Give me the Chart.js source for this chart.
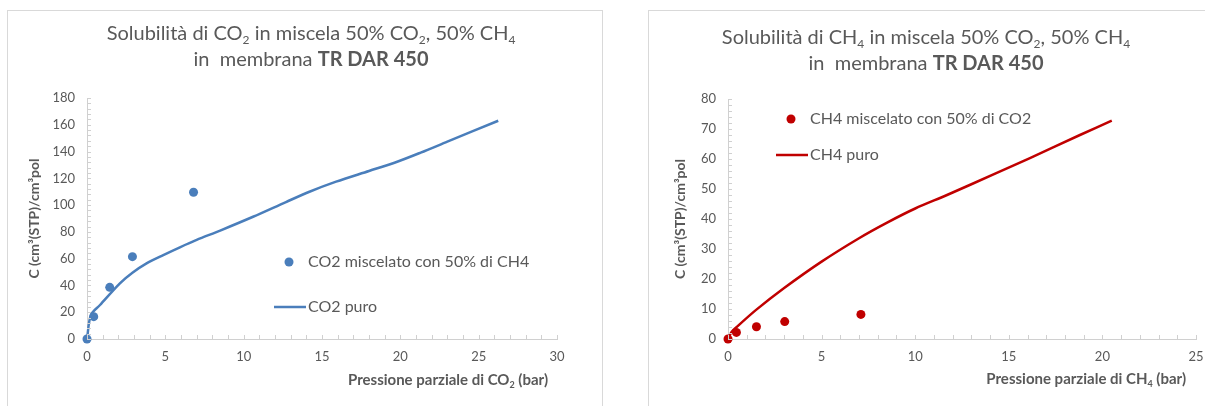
<!DOCTYPE html>
<html>
<head>
<meta charset="utf-8">
<script src="https://cdn.jsdelivr.net/npm/chart.js@4.4.1/dist/chart.umd.min.js"></script>
<style>
  html, body { margin: 0; padding: 0; background: #ffffff; }
  body { width: 1205px; height: 406px; position: relative; overflow: hidden; }
  .panel { position: absolute; border: 1px solid #d9d9d9; box-sizing: border-box; }
  canvas { position: absolute; top: 0; }
</style>
</head>
<body>
<div class="panel" style="left:7px; top:10px; width:596px; height:420px;"></div>
<div class="panel" style="left:648px; top:10px; width:600px; height:420px;"></div>
<canvas id="co2Chart" width="620" height="406" style="left:0px;"></canvas>
<canvas id="ch4Chart" width="610" height="406" style="left:620px;"></canvas>
<script>
// CO2 solubility: mixed-gas points and pure-gas curve (pressure in bar, C in cm3(STP)/cm3 pol)
const co2MixPressure = [0, 0.43, 1.45, 2.9, 6.8];
const co2MixConc = [0, 16.7, 38.6, 61.5, 109.6];
const co2PurePressure = [0, 0.25, 0.83, 2.1, 2.9, 3.8, 4.87, 5.93, 7, 8.5, 10.6, 12.7, 14.2, 15.9, 18, 19.8, 21.3, 23, 26.25];
const co2PureConc = [0, 18, 25.4, 41.6, 49.5, 56.5, 62.7, 68.5, 74, 81, 91.3, 102.3, 110, 117.5, 125.5, 132.4, 139.2, 147.4, 163];

// CH4 solubility: mixed-gas points and pure-gas curve
const ch4MixPressure = [0, 0.45, 1.52, 3.03, 7.1];
const ch4MixConc = [0, 2.2, 4.1, 5.8, 8.2];
const ch4PurePressure = [0, 0.2, 0.5, 1.5, 3, 5, 7, 8.5, 10, 11.7, 14.3, 16.1, 18.8, 20.5];
const ch4PureConc = [0, 2.4, 4.2, 9.7, 17, 25.8, 33.6, 38.8, 43.5, 48, 55.2, 60.2, 68, 72.8];

// Legend labels
const co2Labels = ['CO2 miscelato con 50% di CH4', 'CO2 puro'];
const ch4Labels = ['CH4 miscelato con 50% di CO2', 'CH4 puro'];

// Axis ranges: [min, max, major step, minor step]
const co2XAxis = [0, 30, 5, 1];
const co2YAxis = [0, 180, 20, 4];
const ch4XAxis = [0, 25, 5, 1];
const ch4YAxis = [0, 80, 10, 2];

const FONT = 'Lato, "Open Sans", sans-serif';
const TEXT = '#595959';
const AXIS = '#d0d0d0';

function pairs(xs, ys) { return xs.map((x, i) => ({ x: x, y: ys[i] })); }

// Draws a line of text made of runs (normal / bold / subscript)
function drawRuns(ctx, runs, x, y, size, align) {
  const fontFor = r => (r.bold ? 'bold ' : '') + (r.sub ? Math.round(size * 0.62) : size) + 'px ' + FONT;
  let total = 0;
  runs.forEach(r => { ctx.font = fontFor(r); r.w = ctx.measureText(r.t).width; total += r.w; });
  let cx = align === 'right' ? x - total : align === 'left' ? x : x - total / 2;
  ctx.textBaseline = 'alphabetic';
  ctx.textAlign = 'left';
  runs.forEach(r => {
    ctx.font = fontFor(r);
    ctx.fillText(r.t, cx, y + (r.sub ? size * 0.22 : 0));
    cx += r.w;
  });
}

// Inside-pointing minor tick marks along both axes
const minorTicks = {
  id: 'minorTicks',
  afterDatasetsDraw(chart, args, opts) {
    const ctx = chart.ctx, xs = chart.scales.x, ys = chart.scales.y;
    const a = chart.chartArea;
    ctx.save();
    ctx.strokeStyle = AXIS;
    ctx.lineWidth = 1;
    ctx.beginPath();
    for (let v = xs.min; v <= xs.max + 1e-9; v += opts.xStep) {
      const px = Math.round(xs.getPixelForValue(v)) + 0.5;
      ctx.moveTo(px, a.bottom); ctx.lineTo(px, a.bottom - 4);
    }
    for (let v = ys.min; v <= ys.max + 1e-9; v += opts.yStep) {
      const py = Math.round(ys.getPixelForValue(v)) + 0.5;
      ctx.moveTo(a.left, py); ctx.lineTo(a.left + 4, py);
    }
    ctx.stroke();
    ctx.restore();
  }
};

// Title, axis titles and legend drawn with sub/superscripts
const annotations = {
  id: 'annotations',
  afterDraw(chart, args, o) {
    const ctx = chart.ctx, a = chart.chartArea;
    ctx.save();
    ctx.fillStyle = TEXT;
    drawRuns(ctx, o.title1, o.titleX, o.titleY, 20, 'center');
    drawRuns(ctx, o.title2, o.titleX, o.titleY + 26, 20, 'center');
    drawRuns(ctx, o.xTitle, a.right - o.xTitleInset, o.xTitleY, 15, 'right');
    ctx.save();
    ctx.translate(o.yTitleX, (a.top + a.bottom) / 2);
    ctx.rotate(-Math.PI / 2);
    ctx.font = 'bold 14px ' + FONT;
    ctx.textAlign = 'center';
    ctx.textBaseline = 'middle';
    ctx.fillText('C (cm³(STP)/cm³pol', 0, 0);
    ctx.restore();

    // legend
    const ds = chart.data.datasets;
    const lg = o.legend;
    ctx.font = '16px ' + FONT;
    ctx.textBaseline = 'middle';
    ctx.textAlign = 'left';
    ctx.fillStyle = ds[0].backgroundColor;
    ctx.beginPath();
    ctx.arc(a.left + lg.dotX, a.top + lg.dotY, 4.5, 0, Math.PI * 2);
    ctx.fill();
    ctx.fillStyle = TEXT;
    ctx.fillText(ds[0].label, a.left + lg.dotX + 19, a.top + lg.dotY);
    ctx.strokeStyle = ds[1].borderColor;
    ctx.lineWidth = 2.5;
    ctx.beginPath();
    ctx.moveTo(a.left + lg.lineX, a.top + lg.lineY);
    ctx.lineTo(a.left + lg.lineX + 32, a.top + lg.lineY);
    ctx.stroke();
    ctx.fillText(ds[1].label, a.left + lg.lineX + 34, a.top + lg.lineY);
    ctx.restore();
  }
};

function makeChart(id, cfg) {
  const axisCommon = (range, side) => ({
    type: 'linear',
    position: side,
    min: range[0], max: range[1],
    ticks: { stepSize: range[2], color: TEXT, font: { family: FONT, size: 13 }, padding: side === 'left' ? 12 : 10 },
    grid: { drawOnChartArea: false, drawTicks: false },
    border: { color: AXIS, width: 1 },
    afterFit(s) { if (side === 'left') s.width = cfg.yWidth; else s.height = 30; }
  });
  return new Chart(document.getElementById(id), {
    type: 'scatter',
    data: {
      datasets: [
        {
          label: cfg.labels[0],
          data: pairs(cfg.mixX, cfg.mixY),
          showLine: false,
          backgroundColor: cfg.color,
          borderColor: cfg.color,
          pointRadius: 4.5,
          pointBorderWidth: 0,
          clip: false
        },
        {
          label: cfg.labels[1],
          data: pairs(cfg.pureX, cfg.pureY),
          showLine: true,
          borderColor: cfg.color,
          backgroundColor: cfg.color,
          borderWidth: 2.5,
          pointRadius: 0,
          tension: 0.3,
          clip: false
        }
      ]
    },
    options: {
      responsive: false,
      animation: false,
      devicePixelRatio: 1,
      layout: { padding: cfg.padding },
      scales: { x: axisCommon(cfg.xAxis, 'bottom'), y: axisCommon(cfg.yAxis, 'left') },
      plugins: {
        legend: { display: false },
        tooltip: { enabled: false },
        minorTicks: { xStep: cfg.xAxis[3], yStep: cfg.yAxis[3] },
        annotations: cfg.text
      }
    },
    plugins: [minorTicks, annotations]
  });
}

makeChart('co2Chart', {
  mixX: co2MixPressure, mixY: co2MixConc,
  pureX: co2PurePressure, pureY: co2PureConc,
  labels: co2Labels, color: '#4a7ebb',
  xAxis: co2XAxis, yAxis: co2YAxis,
  yWidth: 40,
  padding: { left: 47, right: 63, top: 98, bottom: 37 },
  text: {
    title1: [{ t: 'Solubilità di CO' }, { t: '2', sub: true }, { t: ' in miscela 50% CO' }, { t: '2', sub: true }, { t: ', 50% CH' }, { t: '4', sub: true }],
    title2: [{ t: 'in  membrana ' }, { t: 'TR DAR 450', bold: true }],
    titleX: 311, titleY: 40,
    xTitle: [{ t: 'Pressione parziale di CO', bold: true }, { t: '2', sub: true, bold: true }, { t: ' (bar)', bold: true }],
    xTitleInset: 9, xTitleY: 385,
    yTitleX: 34,
    legend: { dotX: 202, dotY: 164, lineX: 187, lineY: 209 }
  }
});

makeChart('ch4Chart', {
  mixX: ch4MixPressure, mixY: ch4MixConc,
  pureX: ch4PurePressure, pureY: ch4PureConc,
  labels: ch4Labels, color: '#c00000',
  xAxis: ch4XAxis, yAxis: ch4YAxis,
  yWidth: 40,
  padding: { left: 68, right: 34, top: 99, bottom: 37 },
  text: {
    title1: [{ t: 'Solubilità di CH' }, { t: '4', sub: true }, { t: ' in miscela 50% CO' }, { t: '2', sub: true }, { t: ', 50% CH' }, { t: '4', sub: true }],
    title2: [{ t: 'in  membrana ' }, { t: 'TR DAR 450', bold: true }],
    titleX: 306, titleY: 44,
    xTitle: [{ t: 'Pressione parziale di CH', bold: true }, { t: '4', sub: true, bold: true }, { t: ' (bar)', bold: true }],
    xTitleInset: 10, xTitleY: 384,
    yTitleX: 60,
    legend: { dotX: 63, dotY: 20, lineX: 48, lineY: 56 }
  }
});
</script>
</body>
</html>
